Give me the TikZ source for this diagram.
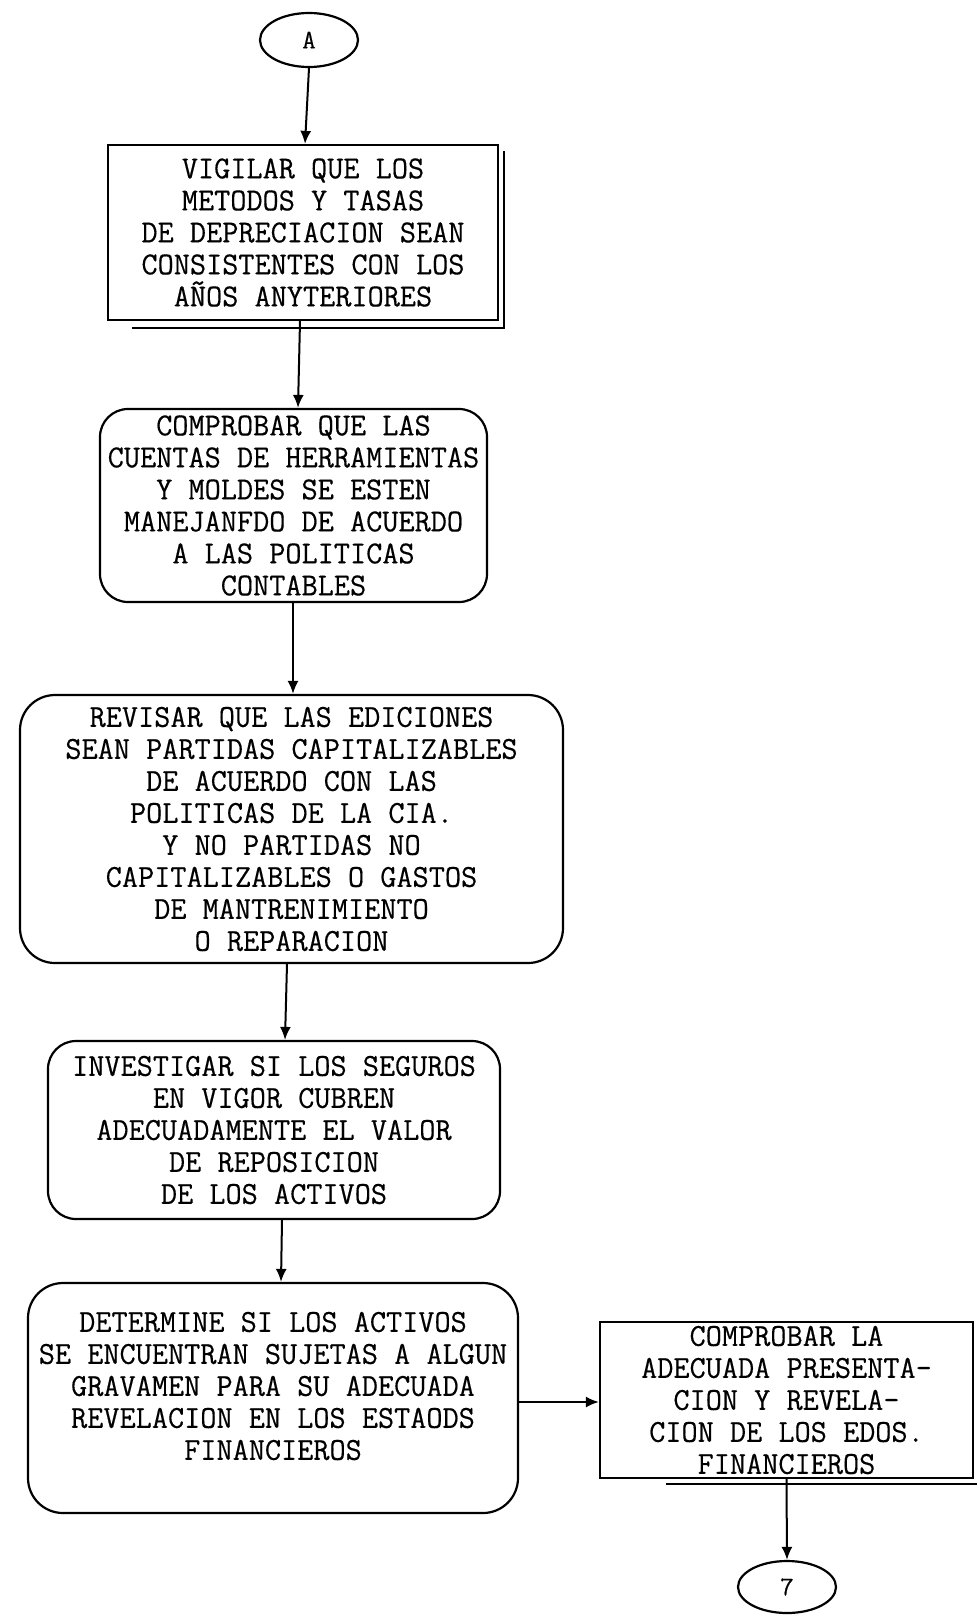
\documentclass[tikz,border=0pt]{standalone}
\usepackage{fontspec}
\usetikzlibrary{arrows.meta,shapes.geometric}
\newfontfamily\twfont[FakeStretch=0.98,FakeBold=0.4]{Latin Modern Mono}
\begin{document}
\begin{tikzpicture}[x=1pt,y=-1pt,
  line width=2.2pt,
  txt/.style={font=\twfont\fontsize{32}{32}\selectfont, align=center, inner sep=0pt},
  plainbox/.style={draw, txt},
  roundbox/.style={draw, txt, rounded corners=28pt},
  flow/.style={-{Latex[length=13pt,width=11pt]}, line width=2pt},
  terminal/.style={draw, ellipse, inner sep=0pt, font=\twfont\fontsize{27}{27}\selectfont}]
\useasboundingbox (0,0) rectangle (977,1615);

% terminals and process boxes
\node[terminal, minimum width=98pt, minimum height=54pt] (a) at (309,40) {A};

\node[plainbox, minimum width=390pt, minimum height=175pt] (b1) at (303,232.5)
  {VIGILAR QUE LOS\\METODOS Y TASAS\\DE DEPRECIACION SEAN\\CONSISTENTES CON LOS\\AÑOS ANYTERIORES};

\node[roundbox, minimum width=387pt, minimum height=193pt] (b2) at (293.5,505.5)
  {COMPROBAR QUE LAS\\CUENTAS DE HERRAMIENTAS\\Y MOLDES SE ESTEN\\MANEJANFDO DE ACUERDO\\A LAS POLITICAS\\CONTABLES};

\node[roundbox, rounded corners=35pt, minimum width=543pt, minimum height=268pt] (b3) at (291.5,829)
  {REVISAR QUE LAS EDICIONES\\SEAN PARTIDAS CAPITALIZABLES\\DE ACUERDO CON LAS\\POLITICAS DE LA CIA.\\Y NO PARTIDAS NO\\CAPITALIZABLES O GASTOS\\DE MANTRENIMIENTO\\O REPARACION};

\node[roundbox, minimum width=452pt, minimum height=178pt] (b4) at (274,1130)
  {INVESTIGAR SI LOS SEGUROS\\EN VIGOR CUBREN\\ADECUADAMENTE EL VALOR\\DE REPOSICION\\DE LOS ACTIVOS};

\node[roundbox, rounded corners=35pt, minimum width=490pt, minimum height=230pt] (b5) at (273,1398) {};
\node[txt] (b5text) at (273,1386)
  {DETERMINE SI LOS ACTIVOS\\SE ENCUENTRAN SUJETAS A ALGUN\\GRAVAMEN PARA SU ADECUADA\\REVELACION EN LOS ESTAODS\\FINANCIEROS};

\node[plainbox, minimum width=373pt, minimum height=156pt] (b6) at (786.5,1400)
  {COMPROBAR LA\\ADECUADA PRESENTA-\\CION Y REVELA-\\CION DE LOS EDOS.\\FINANCIEROS};

\node[terminal, minimum width=98pt, minimum height=52pt] (n7) at (787,1587) {7};

% offset edges behind the square boxes
\draw ([xshift=25pt,yshift=-7pt]b1.south west) -- ([xshift=5pt,yshift=-7pt]b1.south east)
      -- ([xshift=5pt,yshift=-7pt]b1.north east);
\draw ([xshift=67pt,yshift=-5pt]b6.south west) -- ([xshift=4pt,yshift=-5pt]b6.south east);

% flow
\draw[flow] (a.south) -- ([xshift=2pt]b1.north);
\draw[flow] ([xshift=-3pt]b1.south) -- ([xshift=4.5pt]b2.north);
\draw[flow] ([xshift=-0.5pt]b2.south) -- ([xshift=1.5pt]b3.north);
\draw[flow] ([xshift=-4.5pt]b3.south) -- ([xshift=11pt]b4.north);
\draw[flow] ([xshift=8pt]b4.south) -- ([xshift=8pt]b5.north);
\draw[flow] ([yshift=-4pt]b5.east) -- ([yshift=-4pt]b5.east -| b6.west);
\draw[flow] (b6.south) -- (n7.north);
\end{tikzpicture}
\end{document}
